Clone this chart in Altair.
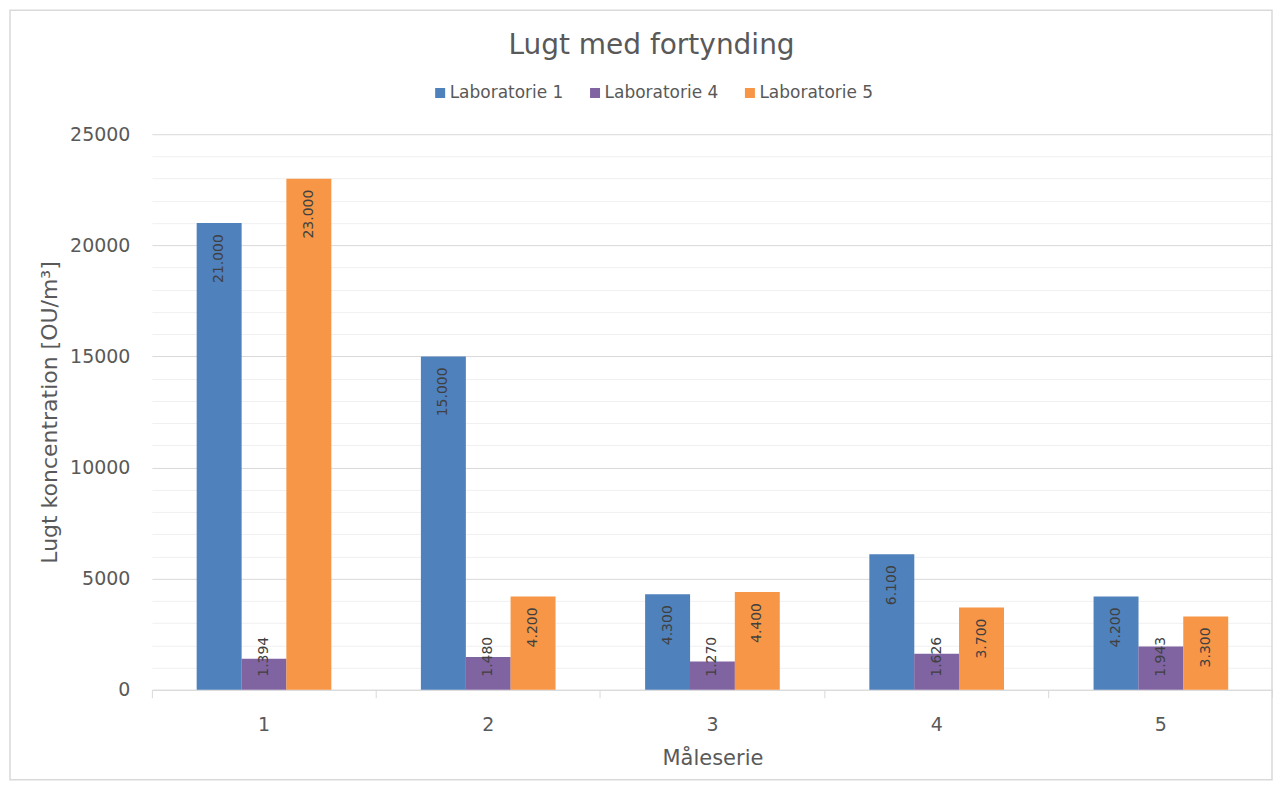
import altair as alt
import pandas as pd

series_names = ["Laboratorie 1", "Laboratorie 4", "Laboratorie 5"]
categories = ["1", "2", "3", "4", "5"]
lab1 = [21000, 15000, 4300, 6100, 4200]
lab4 = [1394, 1480, 1270, 1626, 1943]
lab5 = [23000, 4200, 4400, 3700, 3300]
colors = ["#4F81BD", "#8064A2", "#F79646"]
title_text = "Lugt med fortynding"

rows = []
for name, vals in zip(series_names, [lab1, lab4, lab5]):
    for c, v in zip(categories, vals):
        rows.append({"serie": c, "lab": name, "value": v,
                     "label": f"{v:,}".replace(",", ".")})
df = pd.DataFrame(rows)

FONT = "DejaVu Sans"
GREY = "#595959"

x_enc = alt.X("serie:N", sort=categories,
              scale=alt.Scale(paddingInner=0.4, paddingOuter=0.2),
              axis=alt.Axis(title="Måleserie", titleFontSize=21, titleColor=GREY,
                            titleFontWeight="normal", titlePadding=13,
                            labelFontSize=19, labelColor=GREY, labelAngle=0,
                            labelPadding=18, domainColor="#d9d9d9",
                            tickColor="#d9d9d9", tickSize=8, bandPosition=-1/3,
                            grid=False))
xoff = alt.XOffset("lab:N", sort=series_names, scale=alt.Scale(paddingInner=0, paddingOuter=0))

y_axis = alt.Axis(
    title="Lugt koncentration [OU/m³]", titleFontSize=22, titleColor=GREY,
    titleFontWeight="normal", titlePadding=8,
    values=list(range(0, 25001, 1000)), tickCount=40,
    labelExpr="datum.value % 5000 === 0 ? datum.value : ''",
    labelOverlap=False, labelFlush=False,
    labelFontSize=19, labelColor=GREY, labelPadding=22,
    ticks=False, domain=False, grid=True,
    gridColor={"condition": {"test": "datum.value % 5000 === 0", "value": "#d9d9d9"},
               "value": "#f0f0f0"},
)

base = alt.Chart(df)

bars = base.mark_bar(size=45).encode(
    x=x_enc,
    xOffset=xoff,
    y=alt.Y("value:Q", scale=alt.Scale(domain=[0, 25000], nice=False), axis=y_axis),
    color=alt.Color("lab:N", sort=series_names,
                    scale=alt.Scale(domain=series_names, range=colors),
                    legend=alt.Legend(title=None, orient="none", direction="horizontal",
                                      legendX=280, legendY=-50, symbolType="square",
                                      symbolSize=100, symbolStrokeWidth=0,
                                      labelFontSize=17, labelColor=GREY,
                                      labelOffset=1, columnPadding=23, padding=0)),
)

labels = base.transform_calculate(
    ypos="max(datum.value, 2880)"
).mark_text(angle=270, align="right", baseline="middle", dx=-11,
            fontSize=14, color="#404040", font=FONT).encode(
    x=x_enc,
    xOffset=xoff,
    y=alt.Y("ypos:Q"),
    text="label:N",
)

title_df = pd.DataFrame({"t": [title_text]})
title = alt.Chart(title_df).mark_text(
    fontSize=28, color=GREY, font=FONT, align="center", baseline="middle"
).encode(x=alt.value(500), y=alt.value(-88), text="t:N")

end_tick = alt.Chart(pd.DataFrame({"a": [0]})).mark_rule(color="#d9d9d9").encode(
    x=alt.value(1121.5), y=alt.value(556), y2=alt.value(564))

border = alt.Chart(pd.DataFrame({"a": [0]})).mark_rect(
    fill=None, stroke="#d9d9d9", strokeWidth=1.5
).encode(x=alt.value(-142), x2=alt.value(1121), y=alt.value(-124), y2=alt.value(646))

chart = alt.layer(border, bars, labels, title, end_tick).properties(
    width=1122, height=556,
    autosize=alt.AutoSizeParams(type="none"),
    padding={"left": 144, "top": 126, "right": 0, "bottom": 95},
).configure(font=FONT).configure_view(stroke=None)

chart.save("out.html", embed_options={"renderer": "svg", "actions": False})
